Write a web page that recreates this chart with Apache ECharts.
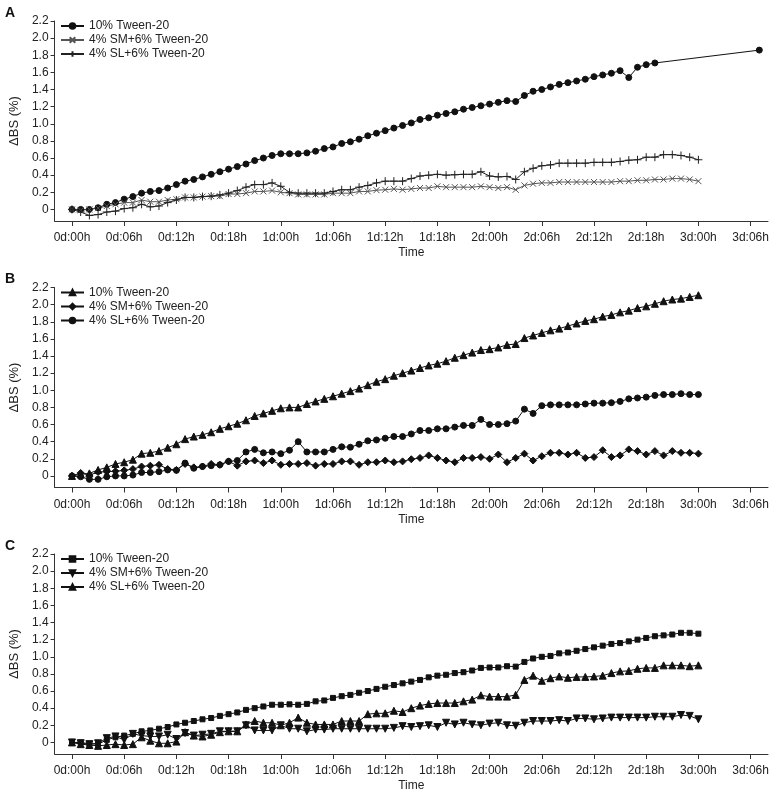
<!DOCTYPE html>
<html>
<head>
<meta charset="utf-8">
<script src="https://cdn.jsdelivr.net/npm/echarts@6/dist/echarts.min.js"></script>
<style>
  html, body { margin: 0; padding: 0; background: #fff; }
  #chart { width: 774px; height: 796px; }
</style>
</head>
<body>
<div id="chart"></div>
<script>
// ---------- data ----------
const seriesNames = ['10% Tween-20', '4% SM+6% Tween-20', '4% SL+6% Tween-20'];

const hours = [0,1,2,3,4,5,6,7,8,9,10,11,12,13,14,15,16,17,18,19,20,21,22,23,24,25,26,27,28,29,30,31,32,33,34,35,36,
  37,38,39,40,41,42,43,44,45,46,47,48,49,50,51,52,53,54,55,56,57,58,59,60,61,62,63,64,65,66,67,68,69,70,71,72];
const hoursTweenA = [0,1,2,3,4,5,6,7,8,9,10,11,12,13,14,15,16,17,18,19,20,21,22,23,24,25,26,27,28,29,30,31,32,33,34,35,36,
  37,38,39,40,41,42,43,44,45,46,47,48,49,50,51,52,53,54,55,56,57,58,59,60,61,62,63,64,65,66,67,79];

const tickHours = [0,6,12,18,24,30,36,42,48,54,60,66,72,78];
const tickLabels = ['0d:00h','0d:06h','0d:12h','0d:18h','1d:00h','1d:06h','1d:12h','1d:18h','2d:00h','2d:06h','2d:12h','2d:18h','3d:00h','3d:06h'];
const yTicks = [0,0.2,0.4,0.6,0.8,1.0,1.2,1.4,1.6,1.8,2.0,2.2];
const yTickLabels = ['0','0.2','0.4','0.6','0.8','1.0','1.2','1.4','1.6','1.8','2.0','2.2'];

// Panel A
const tweenA = [0,0,0,0.02,0.06,0.08,0.12,0.15,0.19,0.21, 0.22,0.25,0.29,0.33,0.35,0.38,0.41,0.44,0.47,0.50,
  0.53,0.57,0.60,0.63,0.65,0.65,0.65,0.66,0.68,0.71, 0.73,0.77,0.79,0.82,0.86,0.89,0.92,0.95,0.98,1.01,
  1.05,1.07,1.10,1.12,1.14,1.17,1.19,1.21,1.23,1.25, 1.27,1.26,1.33,1.38,1.40,1.43,1.46,1.48,1.50,1.52,
  1.55,1.57,1.59,1.62,1.54,1.66,1.69,1.71, 1.86];
const smA = [0,-0.01,0,0.015,0.04,0.06,0.08,0.08,0.11,0.09, 0.09,0.11,0.12,0.14,0.14,0.15,0.155,0.155,0.18,0.18,
  0.19,0.21,0.21,0.22,0.20,0.19,0.175,0.175,0.175,0.175, 0.19,0.19,0.19,0.21,0.21,0.225,0.23,
  0.24,0.23,0.24,0.25,0.25,0.27,0.26,0.26,0.26,0.26, 0.27,0.26,0.25,0.26,0.23,0.28,0.30,0.31,0.31,0.32,
  0.32,0.32,0.32,0.32,0.32,0.32,0.33,0.33,0.34,0.34, 0.35,0.35,0.36,0.36,0.35,0.33];
const slA = [0,-0.03,-0.07,-0.06,-0.03,-0.02,0.01,0.02,0.06,0.03, 0.04,0.08,0.11,0.14,0.14,0.15,0.155,0.17,0.19,0.22,
  0.26,0.29,0.29,0.31,0.27,0.20,0.19,0.19,0.19,0.19, 0.21,0.23,0.23,0.26,0.28,0.31,0.33,
  0.33,0.33,0.36,0.39,0.40,0.41,0.40,0.405,0.41,0.41, 0.44,0.39,0.38,0.385,0.35,0.44,0.48,0.51,0.52,0.54,
  0.54,0.54,0.54,0.55,0.55,0.55,0.56,0.575,0.58,0.61, 0.61,0.64,0.64,0.63,0.61,0.58];

// Panel B
const tweenB = [0,0.02,0.03,0.07,0.10,0.14,0.16,0.19,0.26,0.27, 0.29,0.33,0.37,0.43,0.46,0.48,0.51,0.55,0.58,0.61,
  0.65,0.70,0.73,0.76,0.79,0.80,0.80,0.84,0.87,0.90, 0.93,0.96,0.99,1.02,1.06,1.10,1.13,1.17,
  1.20,1.23,1.26,1.29,1.31,1.34,1.38,1.41,1.44,1.47, 1.48,1.50,1.53,1.54,1.61,1.64,1.67,1.70,1.72,1.75,
  1.78,1.81,1.83,1.86,1.88,1.91,1.93,1.96,1.98,2.01, 2.04,2.06,2.07,2.09,2.11];
const smB = [0,0.035,0.01,0.045,0.05,0.055,0.065,0.08,0.11,0.12, 0.13,0.08,0.07,0.14,0.10,0.11,0.14,0.13,0.17,0.12,
  0.17,0.18,0.15,0.18,0.13,0.14,0.14,0.15,0.12,0.14, 0.14,0.17,0.17,0.13,0.16,0.16,0.18,
  0.16,0.17,0.195,0.21,0.24,0.21,0.18,0.16,0.21,0.21, 0.22,0.20,0.25,0.16,0.21,0.26,0.18,0.23,0.27,0.27,
  0.25,0.27,0.21,0.22,0.30,0.22,0.24,0.31,0.29,0.25, 0.29,0.24,0.29,0.27,0.27,0.26];
const slB = [0,-0.01,-0.04,-0.04,-0.01,0,0,0.01,0.04,0.04, 0.05,0.07,0.065,0.15,0.09,0.11,0.12,0.13,0.17,0.18,
  0.28,0.31,0.27,0.28,0.26,0.30,0.40,0.28,0.28,0.28, 0.31,0.34,0.335,0.37,0.41,0.42,0.44,
  0.46,0.46,0.49,0.53,0.53,0.55,0.55,0.57,0.59,0.59, 0.66,0.60,0.60,0.61,0.64,0.78,0.73,0.82,0.83,0.83,
  0.83,0.83,0.84,0.85,0.85,0.855,0.87,0.90,0.91,0.92, 0.94,0.95,0.95,0.96,0.95,0.95];

// Panel C
const tweenC = [0,0,-0.015,-0.02,0.03,0.06,0.08,0.10,0.13,0.14, 0.16,0.18,0.21,0.23,0.25,0.27,0.285,0.31,0.33,0.35,
  0.38,0.40,0.42,0.44,0.44,0.445,0.44,0.45,0.48,0.49, 0.52,0.54,0.555,0.58,0.60,0.625,0.65,
  0.67,0.69,0.71,0.73,0.76,0.78,0.79,0.81,0.82,0.84, 0.87,0.875,0.875,0.89,0.885,0.94,0.98,1.00,1.01,1.04,
  1.05,1.07,1.09,1.11,1.13,1.15,1.16,1.18,1.20,1.22, 1.24,1.25,1.26,1.28,1.28,1.27];
const smC = [0,-0.01,-0.02,-0.01,0.05,0.07,0.03,0.10,0.08,0.07, 0.07,0.09,0.04,0.11,0.08,0.09,0.10,0.13,0.13,0.13,
  0.20,0.14,0.14,0.14,0.20,0.16,0.16,0.13,0.15,0.15, 0.16,0.16,0.16,0.16,0.16,0.16,0.16,
  0.17,0.19,0.18,0.19,0.20,0.18,0.23,0.21,0.23,0.21, 0.20,0.22,0.23,0.20,0.195,0.23,0.25,0.25,0.25,0.26,
  0.25,0.28,0.28,0.27,0.28,0.29,0.29,0.29,0.29,0.29, 0.30,0.30,0.30,0.32,0.31,0.27];
const slC = [0,-0.02,-0.03,-0.04,-0.03,-0.02,-0.03,-0.02,0.06,0.02, -0.01,-0.01,0.01,0.12,0.08,0.07,0.09,0.12,0.13,0.13,
  0.21,0.25,0.23,0.23,0.20,0.23,0.29,0.23,0.21,0.21, 0.21,0.25,0.25,0.25,0.33,0.34,0.34,
  0.37,0.355,0.40,0.43,0.45,0.46,0.46,0.46,0.48,0.50, 0.55,0.535,0.535,0.535,0.555,0.73,0.78,0.72,0.75,0.77,
  0.755,0.765,0.765,0.77,0.78,0.81,0.83,0.835,0.86,0.87, 0.87,0.90,0.90,0.90,0.89,0.90];

// ---------- chart ----------
const pair = (xs, ys) => xs.map((x, i) => [x, ys[i]]);

const SYM_CROSS = 'path://M0,0L10,10M0,10L10,0';
const SYM_PLUS = 'path://M5,0L5,10M0,5L10,5';
const SYM_DOWN = 'path://M0,0L10,0L5,9Z';

const FONT = "'Liberation Sans', Arial, Helvetica, sans-serif";
const panelTops = [21, 287.5, 554];
const panelH = 200;
const axisColor = '#333';

const grids = [], xAxes = [], yAxes = [], legends = [], graphics = [];
['A', 'B', 'C'].forEach((p, i) => {
  grids.push({ left: 52, right: 6, top: panelTops[i], height: panelH, containLabel: false });
  xAxes.push({
    type: 'value', gridIndex: i, min: -2, max: 80,
    name: 'Time', nameLocation: 'middle', nameGap: 26,
    nameTextStyle: { fontFamily: FONT, fontSize: 12, color: '#222' },
    axisLine: { show: true, onZero: false, lineStyle: { color: axisColor, width: 1 } },
    axisTick: { show: true, customValues: tickHours, length: 5, lineStyle: { color: axisColor } },
    axisLabel: {
      customValues: tickHours, margin: 11, fontFamily: FONT, fontSize: 12, color: '#222',
      formatter: v => { const k = tickHours.indexOf(v); return k >= 0 ? tickLabels[k] : ''; }
    },
    splitLine: { show: false }
  });
  yAxes.push({
    type: 'value', gridIndex: i, min: -0.135, max: 2.2,
    name: 'ΔBS (%)', nameLocation: 'middle', nameGap: 31, nameRotate: 90,
    nameTextStyle: { fontFamily: FONT, fontSize: 13, color: '#222' },
    axisLine: { show: true, onZero: false, lineStyle: { color: axisColor, width: 1 } },
    axisTick: { show: true, customValues: yTicks, length: 4, lineStyle: { color: axisColor } },
    axisLabel: {
      customValues: yTicks, margin: 6, fontFamily: FONT, fontSize: 12, color: '#222',
      formatter: v => { const k = yTicks.findIndex(t => Math.abs(t - v) < 1e-6); return k >= 0 ? yTickLabels[k] : ''; }
    },
    splitLine: { show: false }
  });
  legends.push({
    orient: 'vertical', left: 60, top: panelTops[i] - 1, padding: 0,
    itemWidth: 23, itemHeight: 7, itemGap: 2,
    data: seriesNames.map(n => p + '|' + n),
    formatter: name => name.split('|')[1],
    textStyle: { fontFamily: FONT, fontSize: 12, color: '#222' },
    selectedMode: false
  });
  graphics.push({
    type: 'text', left: 5, top: panelTops[i] - 15,
    style: { text: p, font: "bold 14px " + FONT, fill: '#111' }
  });
});

function mk(panel, idx, name, xs, ys, symbol, size, color) {
  return {
    type: 'line', name: panel + '|' + name, xAxisIndex: idx, yAxisIndex: idx,
    data: pair(xs, ys), symbol: symbol, symbolSize: size, showAllSymbol: true,
    lineStyle: { color: color, width: 1 },
    itemStyle: { color: color, borderColor: color, borderWidth: 1 },
    emphasis: { disabled: true }
  };
}

const series = [
  mk('A', 0, seriesNames[0], hoursTweenA, tweenA, 'circle', 6, '#111'),
  mk('A', 0, seriesNames[1], hours, smA, SYM_CROSS, 6, '#555'),
  mk('A', 0, seriesNames[2], hours, slA, SYM_PLUS, 8, '#222'),
  mk('B', 1, seriesNames[0], hours, tweenB, 'triangle', 7, '#111'),
  mk('B', 1, seriesNames[1], hours, smB, 'diamond', 7, '#111'),
  mk('B', 1, seriesNames[2], hours, slB, 'circle', 6, '#111'),
  mk('C', 2, seriesNames[0], hours, tweenC, 'rect', 5, '#111'),
  mk('C', 2, seriesNames[1], hours, smC, SYM_DOWN, 7, '#111'),
  mk('C', 2, seriesNames[2], hours, slC, 'triangle', 7, '#111')
];

const chart = echarts.init(document.getElementById('chart'), null, { renderer: 'canvas' });
chart.setOption({
  animation: false,
  backgroundColor: '#fff',
  grid: grids, xAxis: xAxes, yAxis: yAxes, legend: legends,
  graphic: graphics,
  series: series
});
</script>
</body>
</html>
